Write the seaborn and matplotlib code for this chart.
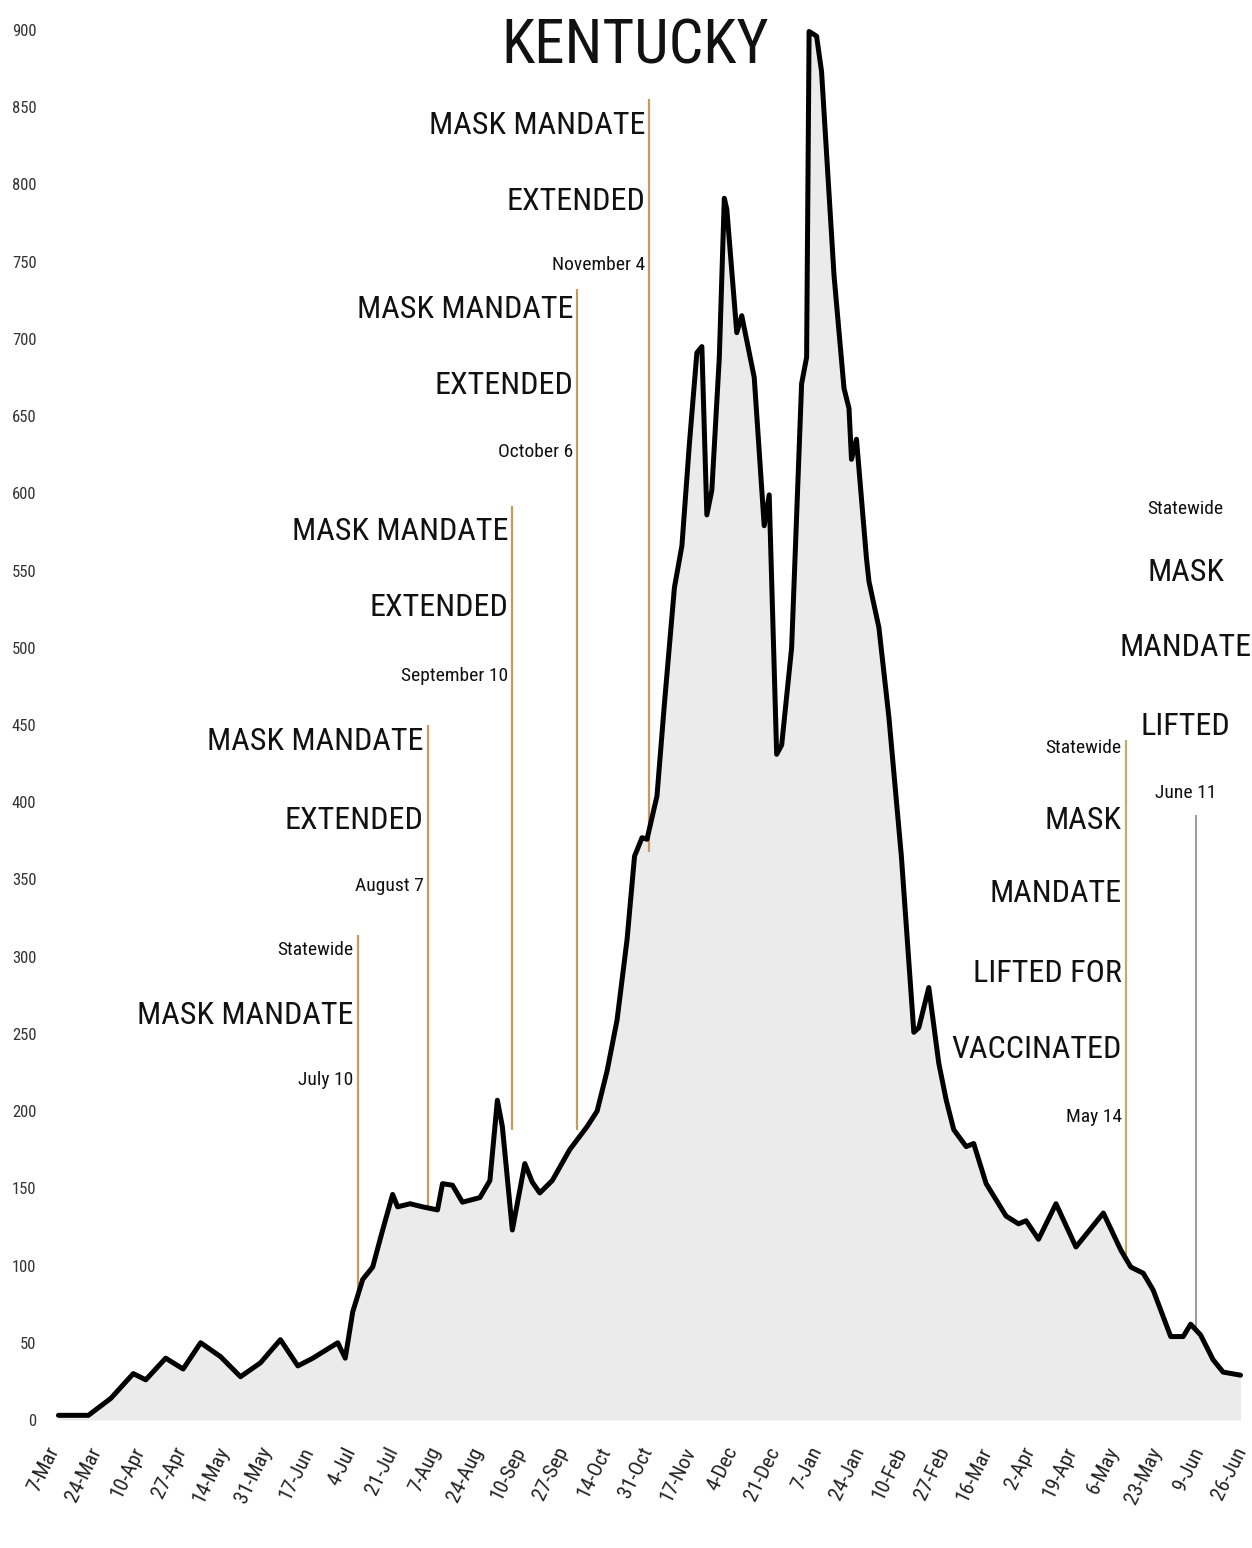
import matplotlib
matplotlib.use("Agg")
import matplotlib.pyplot as plt
from matplotlib import font_manager
import seaborn as sns
import pandas as pd

# ---------------- data ----------------
dates = [
    "2020-03-12", "2020-03-24", "2020-04-02", "2020-04-11", "2020-04-16", "2020-04-24",
    "2020-05-01", "2020-05-08", "2020-05-16", "2020-05-24", "2020-06-01", "2020-06-09",
    "2020-06-16", "2020-06-22", "2020-07-02", "2020-07-05", "2020-07-08", "2020-07-12",
    "2020-07-16", "2020-07-20", "2020-07-24", "2020-07-26", "2020-07-31", "2020-08-05",
    "2020-08-11", "2020-08-13", "2020-08-17", "2020-08-21", "2020-08-28", "2020-09-01",
    "2020-09-04", "2020-09-06", "2020-09-10", "2020-09-15", "2020-09-18", "2020-09-21",
    "2020-09-26", "2020-10-03", "2020-10-10", "2020-10-14", "2020-10-18", "2020-10-22",
    "2020-10-26", "2020-10-29", "2020-11-01", "2020-11-03", "2020-11-07", "2020-11-10",
    "2020-11-14", "2020-11-17", "2020-11-20", "2020-11-23", "2020-11-25", "2020-11-27",
    "2020-11-29", "2020-12-02", "2020-12-04", "2020-12-05", "2020-12-09", "2020-12-11",
    "2020-12-16", "2020-12-20", "2020-12-22", "2020-12-25", "2020-12-27", "2020-12-31",
    "2021-01-04", "2021-01-06", "2021-01-07", "2021-01-10", "2021-01-12", "2021-01-17",
    "2021-01-21", "2021-01-23", "2021-01-24", "2021-01-26", "2021-01-30", "2021-01-31",
    "2021-02-04", "2021-02-08", "2021-02-13", "2021-02-18", "2021-02-20", "2021-02-24",
    "2021-02-28", "2021-03-03", "2021-03-06", "2021-03-11", "2021-03-14", "2021-03-19",
    "2021-03-27", "2021-04-01", "2021-04-04", "2021-04-09", "2021-04-16", "2021-04-24",
    "2021-05-05", "2021-05-12", "2021-05-16", "2021-05-21", "2021-05-25", "2021-06-01",
    "2021-06-06", "2021-06-09", "2021-06-13", "2021-06-18", "2021-06-22", "2021-06-29",
]
cases = [
    3, 3, 14, 30, 26, 40,
    33, 50, 41, 28, 37, 52,
    35, 40, 50, 40, 70, 91,
    99, 123, 146, 138, 140, 138,
    136, 153, 152, 141, 144, 155,
    207, 190, 123, 166, 154, 147,
    155, 175, 190, 200, 226, 259,
    311, 365, 377, 376, 404, 464,
    539, 566, 632, 691, 695, 586,
    602, 688, 791, 784, 704, 715,
    675, 579, 599, 431, 437, 500,
    671, 688, 899, 896, 873, 741,
    668, 655, 622, 635, 558, 543,
    513, 455, 365, 251, 254, 280,
    231, 207, 188, 177, 179, 153,
    132, 127, 129, 117, 140, 112,
    134, 110, 99, 95, 84, 54,
    54, 62, 55, 39, 31, 29,
]

tick_dates = ["2020-03-07", "2020-03-24", "2020-04-10", "2020-04-27", "2020-05-14",
              "2020-05-31", "2020-06-17", "2020-07-04", "2020-07-21", "2020-08-07",
              "2020-08-24", "2020-09-10", "2020-09-27", "2020-10-14", "2020-10-31",
              "2020-11-17", "2020-12-04", "2020-12-21", "2021-01-07", "2021-01-24",
              "2021-02-10", "2021-02-27", "2021-03-16", "2021-04-02", "2021-04-19",
              "2021-05-06", "2021-05-23", "2021-06-09", "2021-06-26"]
tick_labels = ["7-Mar", "24-Mar", "10-Apr", "27-Apr", "14-May", "31-May", "17-Jun",
               "4-Jul", "21-Jul", "7-Aug", "24-Aug", "10-Sep", "27-Sep", "14-Oct",
               "31-Oct", "17-Nov", "4-Dec", "21-Dec", "7-Jan", "24-Jan", "10-Feb",
               "27-Feb", "16-Mar", "2-Apr", "19-Apr", "6-May", "23-May", "9-Jun", "26-Jun"]
y_ticks = list(range(0, 901, 50))

# event annotations (right-aligned to their vertical line)
event_dates = ["2020-07-10", "2020-08-07", "2020-09-10", "2020-10-06", "2020-11-04", "2021-05-14"]
event_line_bottom = [85, 138, 188, 188, 368, 107]
event_line_top = [314, 450, 592, 732, 855, 440]
event_texts = [
    [("Statewide", 304, "s"), ("MASK MANDATE", 262, "b"), ("July 10", 220, "s")],
    [("MASK MANDATE", 439, "b"), ("EXTENDED", 388, "b"), ("August 7", 346, "s")],
    [("MASK MANDATE", 575, "b"), ("EXTENDED", 526, "b"), ("September 10", 482, "s")],
    [("MASK MANDATE", 719, "b"), ("EXTENDED", 670, "b"), ("October 6", 627, "s")],
    [("MASK MANDATE", 838, "b"), ("EXTENDED", 789, "b"), ("November 4", 748, "s")],
    [("Statewide", 435, "s"), ("MASK", 388, "b"), ("MANDATE", 341, "b"),
     ("LIFTED FOR", 289, "b"), ("VACCINATED", 240, "b"), ("May 14", 196, "s")],
]
lift_date = "2021-06-11"
lift_line = (58, 392)
lift_text_date = "2021-06-07"
lift_texts = [("Statewide", 590, "s"), ("MASK", 549, "b"), ("MANDATE", 500, "b"),
              ("LIFTED", 449, "b"), ("June 11", 406, "s")]

# ---------------- style ----------------
sns.set_theme(style="white")
avail = {f.name for f in font_manager.fontManager.ttflist}
narrow = None
for cand in ["Roboto Condensed", "Liberation Sans Narrow", "DejaVu Sans Condensed", "Liberation Sans"]:
    if cand in avail:
        narrow = cand
        break
fam = [narrow, "DejaVu Sans"] if narrow else ["DejaVu Sans"]
plt.rcParams["font.family"] = fam

BIG = 23
SMALL = 14

fig = plt.figure(figsize=(12.52, 15.48), dpi=100)
ax = fig.add_axes([42 / 1252, 118 / 1548, (1250 - 42) / 1252, 1430 / 1548])

df = pd.DataFrame({"date": pd.to_datetime(dates), "cases": cases})
ax.fill_between(df["date"], 0, df["cases"], color="#ebebeb", lw=0, zorder=1)
sns.lineplot(data=df, x="date", y="cases", ax=ax, color="black", lw=3.6, zorder=5)

base = pd.Timestamp("2020-03-07")
ax.set_xlim(base - pd.Timedelta(days=1.6), base + pd.Timedelta(days=482.8))
ax.set_ylim(-6.5, 919.4)

ax.set_xticks(pd.to_datetime(tick_dates))
ax.set_xticklabels(tick_labels, rotation=64, ha="right", rotation_mode="anchor",
                   fontsize=15, color="#222222")
ax.set_yticks(y_ticks)
ax.set_yticklabels([str(v) for v in y_ticks], fontsize=12, color="#333333")
ax.tick_params(axis="x", length=0, pad=10)
ax.tick_params(axis="y", length=0, pad=4)
ax.set_xlabel("")
ax.set_ylabel("")
for s in ax.spines.values():
    s.set_visible(False)
ax.grid(False)

line_col = "#c99a5e"
for d, lo, hi, texts in zip(event_dates, event_line_bottom, event_line_top, event_texts):
    dt = pd.Timestamp(d)
    ax.vlines(dt, lo, hi, color=line_col if d != "2021-05-14" else "#b9b06a", lw=1.6, zorder=3)
    for t, yv, kind in texts:
        ax.annotate(t, xy=(dt, yv), xytext=(-3, 0), textcoords="offset points",
                    ha="right", va="center", fontsize=BIG if kind == "b" else SMALL,
                    color="#111111", zorder=6)

dl = pd.Timestamp(lift_date)
ax.vlines(dl, lift_line[0], lift_line[1], color="#9a9a9a", lw=1.4, zorder=3)
for t, yv, kind in lift_texts:
    ax.annotate(t, xy=(pd.Timestamp(lift_text_date), yv), ha="center", va="center",
                fontsize=BIG if kind == "b" else SMALL, color="#111111", zorder=6)

fig.text(635 / 1252, (1548 - 64) / 1548, "KENTUCKY", ha="center", va="baseline",
         fontsize=44, color="#111111")

fig.savefig("out.png", dpi=100, facecolor="white")
